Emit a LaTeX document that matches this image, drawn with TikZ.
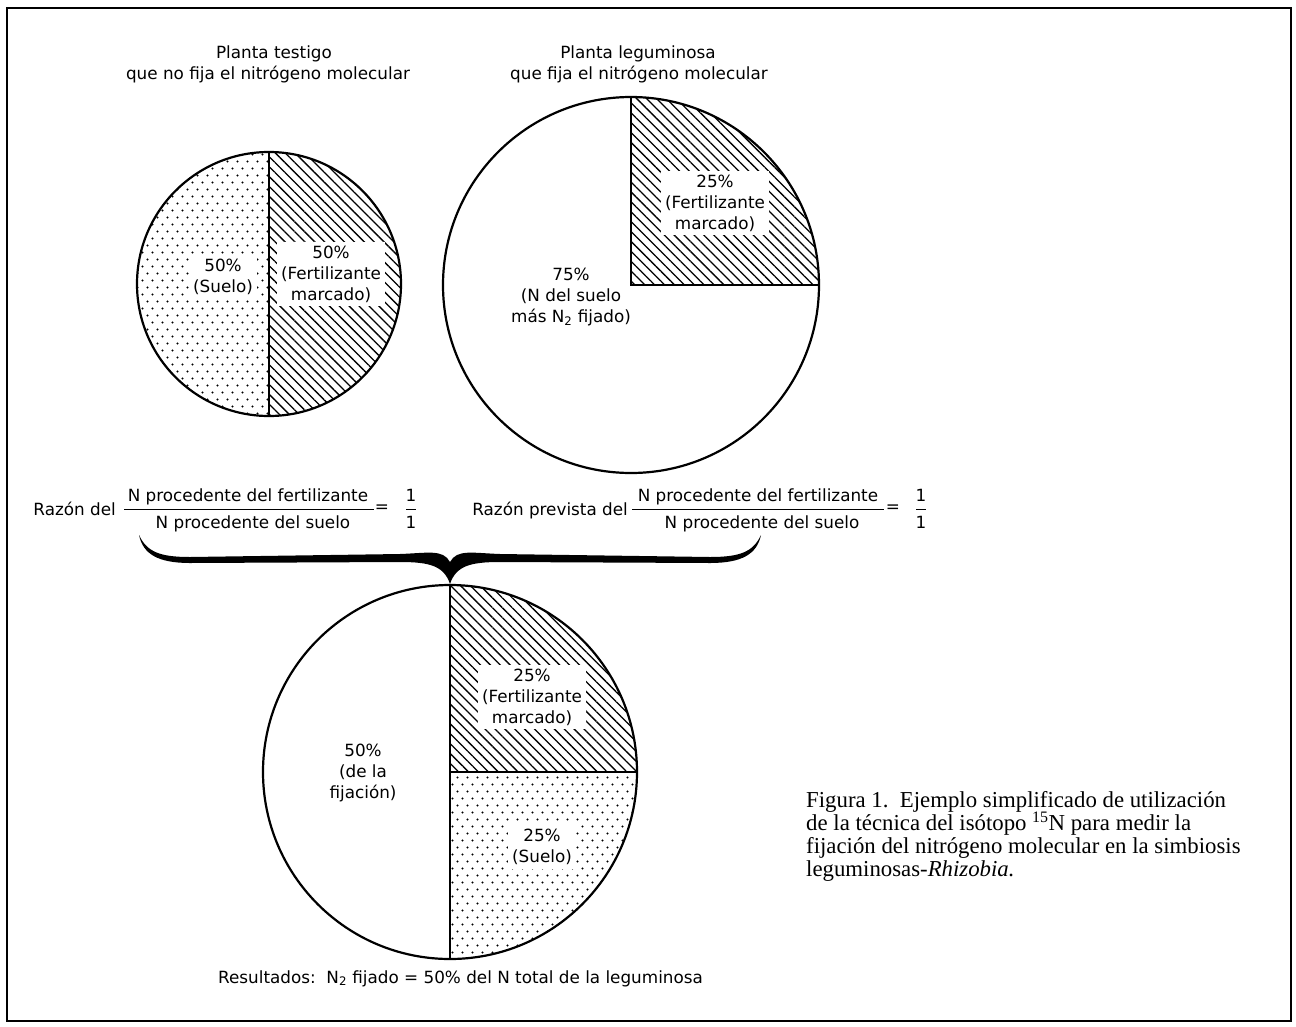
\documentclass[tikz,border=0pt]{standalone}
\usepackage{fontspec}
\setmainfont{DejaVu Sans}
\newfontfamily\capfont{Liberation Serif}
\usetikzlibrary{patterns,patterns.meta}
\pgfdeclarepatternformonly{stagdots}{\pgfpoint{-1pt}{-1pt}}{\pgfpoint{11pt}{15pt}}{\pgfpoint{10pt}{14pt}}{%
  \pgfpathcircle{\pgfpoint{2.5pt}{3.5pt}}{1.2pt}%
  \pgfpathcircle{\pgfpoint{7.5pt}{10.5pt}}{1.2pt}%
  \pgfusepath{fill}}
\tikzset{
  lbl/.style={font=\fontsize{16.8}{21}\selectfont, inner sep=0pt},
  plbl/.style={font=\fontsize{16.8}{21}\selectfont, align=center, inner sep=0pt},
  clr/.style={plbl, fill=white, inner sep=4pt},
  hatchfill/.style={pattern={Lines[angle=-45,distance=7pt,line width=1.3pt]}},
  dotfill/.style={pattern=stagdots},
  rim/.style={line width=2.2pt},
  divl/.style={line width=1.7pt},
  barl/.style={line width=1pt},
  capl/.style={font=\capfont\fontsize{22.8}{23}\selectfont, inner sep=0pt, anchor=base west},
}
\begin{document}
\begin{tikzpicture}[x=1pt,y=-1pt]
\useasboundingbox (0,0) rectangle (1296,1026);
\fill[white] (0,0) rectangle (1296,1026);
\draw[line width=1.8pt] (7,8) rectangle (1291,1021);

% titles
\node[lbl,anchor=base] (t1a) at (274,58) {Planta testigo};
\node[lbl,anchor=base] (t1b) at (268,79) {que no fija el nitrógeno molecular};
\node[lbl,anchor=base] (t2a) at (638,58) {Planta leguminosa};
\node[lbl,anchor=base] (t2b) at (639,79) {que fija el nitrógeno molecular};

% left pie
\coordinate (A) at (269,284);
\coordinate (Atop) at (269,152);
\coordinate (Abot) at (269,416);
\begin{scope}\clip (100,100) rectangle (269,450); \path[dotfill] (A) circle[radius=132pt]; \end{scope}
\begin{scope}\clip (269,100) rectangle (450,450); \path[hatchfill] (A) circle[radius=132pt]; \end{scope}
\draw[divl] (Atop) -- (Abot);
\draw[rim] (A) circle[radius=132pt];
\node[clr] (a1) at (223,277) {50\%\\(Suelo)};
\node[clr] (a2) at (331,274) {50\%\\(Fertilizante\\marcado)};

% right pie
\coordinate (B) at (631,285);
\coordinate (Btop) at (631,97);
\coordinate (Bright) at (819,285);
\begin{scope}\clip (631,80) rectangle (840,285); \path[hatchfill] (B) circle[radius=188pt]; \end{scope}
\draw[divl] (Btop) -- (B) -- (Bright);
\draw[rim] (B) circle[radius=188pt];
\node[clr] (b1) at (715,203) {25\%\\(Fertilizante\\marcado)};
\node[plbl] (b2) at (571,297) {75\%\\(N del suelo\\más N\textsubscript{2} fijado)};

% ratio row 1
\node[lbl,anchor=base east] (r1) at (116,515) {Razón del};
\node[lbl,anchor=base] (n1) at (248,501) {N procedente del fertilizante};
\node[lbl,anchor=base] (d1) at (253,528) {N procedente del suelo};
\coordinate (f1l) at (124,509); \coordinate (f1r) at (374,509);
\draw[barl] (f1l) -- (f1r);
\node[lbl] (e1) at (382,509) {=};
\node[lbl,anchor=base] (o1a) at (411,501) {1};
\node[lbl,anchor=base] (o1b) at (411,528) {1};
\coordinate (g1l) at (406,509); \coordinate (g1r) at (416,509);
\draw[barl] (g1l) -- (g1r);

% ratio row 2
\node[lbl,anchor=base east] (r2) at (628,515) {Razón prevista del};
\node[lbl,anchor=base] (n2) at (758,501) {N procedente del fertilizante};
\node[lbl,anchor=base] (d2) at (762,528) {N procedente del suelo};
\coordinate (f2l) at (632,509); \coordinate (f2r) at (884,509);
\draw[barl] (f2l) -- (f2r);
\node[lbl] (e2) at (893,509) {=};
\node[lbl,anchor=base] (o2a) at (921,501) {1};
\node[lbl,anchor=base] (o2b) at (921,528) {1};
\coordinate (g2l) at (916,509); \coordinate (g2r) at (926,509);
\draw[barl] (g2l) -- (g2r);

% brace
\fill (139,535) .. controls (147,552) and (160,557) .. (190,557)
  -- (400,554)
  .. controls (428,553) and (443,549) .. (450,562)
  .. controls (457,549) and (472,553) .. (500,554)
  -- (710,557)
  .. controls (740,557) and (753,552) .. (761,535)
  .. controls (757,554) and (742,563) .. (710,563)
  -- (500,562)
  .. controls (470,562) and (456,566) .. (450,584)
  .. controls (444,566) and (430,562) .. (400,562)
  -- (190,563)
  .. controls (158,563) and (143,554) .. (139,535) -- cycle;

% bottom pie
\coordinate (C) at (450,772);
\coordinate (Ctop) at (450,585);
\coordinate (Cbot) at (450,959);
\coordinate (Cright) at (637,772);
\begin{scope}\clip (450,570) rectangle (650,772); \path[hatchfill] (C) circle[radius=187pt]; \end{scope}
\begin{scope}\clip (450,772) rectangle (650,970); \path[dotfill] (C) circle[radius=187pt]; \end{scope}
\draw[divl] (Ctop) -- (Cbot);
\draw[divl] (C) -- (Cright);
\draw[rim] (C) circle[radius=187pt];
\node[clr] (c1) at (532,697) {25\%\\(Fertilizante\\marcado)};
\node[plbl] (c2) at (363,773) {50\%\\(de la\\fijación)};
\node[clr] (c3) at (542,847) {25\%\\(Suelo)};

% result
\node[lbl,anchor=base west] (res) at (218,983) {Resultados:\ \ N\textsubscript{2} fijado = 50\% del N total de la leguminosa};

% caption
\node[capl] (cap1) at (806,807) {Figura 1.\ \ Ejemplo simplificado de utilización};
\node[capl] (cap2) at (806,830) {de la técnica del isótopo \textsuperscript{15}N para medir la};
\node[capl] (cap3) at (806,853) {fijación del nitrógeno molecular en la simbiosis};
\node[capl] (cap4) at (806,876) {leguminosas-\textit{Rhizobia.}};
\end{tikzpicture}
\end{document}
